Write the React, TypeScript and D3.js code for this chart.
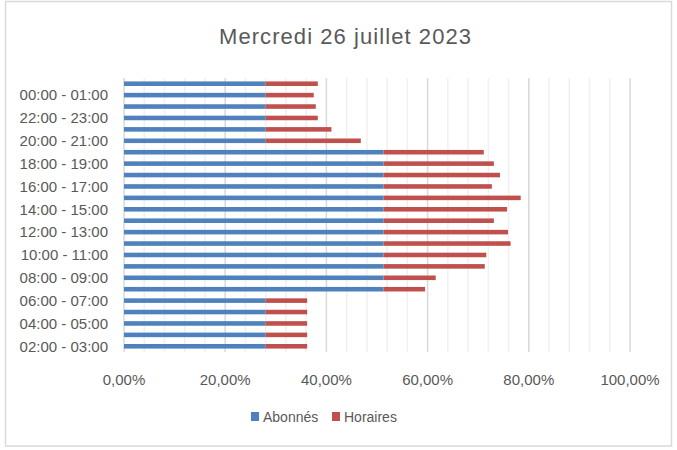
import React from "react";
import * as d3 from "d3";

const title = "Mercredi 26 juillet 2023";
const categories = [
  "02:00 - 03:00", "03:00 - 04:00", "04:00 - 05:00", "05:00 - 06:00",
  "06:00 - 07:00", "07:00 - 08:00", "08:00 - 09:00", "09:00 - 10:00",
  "10:00 - 11:00", "11:00 - 12:00", "12:00 - 13:00", "13:00 - 14:00",
  "14:00 - 15:00", "15:00 - 16:00", "16:00 - 17:00", "17:00 - 18:00",
  "18:00 - 19:00", "19:00 - 20:00", "20:00 - 21:00", "21:00 - 22:00",
  "22:00 - 23:00", "23:00 - 00:00", "00:00 - 01:00", "01:00 - 02:00",
];
const abonnes = [
  0.28, 0.28, 0.28, 0.28, 0.28,
  0.513, 0.513, 0.513, 0.513, 0.513, 0.513, 0.513, 0.513, 0.513, 0.513, 0.513, 0.513, 0.513,
  0.28, 0.28, 0.28, 0.28, 0.28, 0.28,
];
const horaires = [
  0.082, 0.082, 0.082, 0.082, 0.082,
  0.082, 0.103, 0.2, 0.203, 0.251, 0.246, 0.218, 0.244, 0.271, 0.214, 0.23, 0.218, 0.198,
  0.188, 0.13, 0.103, 0.099, 0.095, 0.103,
];
const seriesNames = ["Abonnés", "Horaires"];
const seriesColors = ["#4f81bd", "#c0504d"];
const xTicks = [0, 0.2, 0.4, 0.6, 0.8, 1.0];

const W = 677;
const H = 450;
const plot = { left: 124, right: 630, top: 78, bottom: 352 };
const font = "'Liberation Sans', Arial, sans-serif";
const textColor = "#595959";

export default function App() {
  const x = d3.scaleLinear().domain([0, 1]).range([plot.left, plot.right]);
  const y = d3
    .scaleBand<string>()
    .domain([...categories].reverse())
    .range([plot.top, plot.bottom])
    .paddingInner(0.6)
    .paddingOuter(0.3);

  const table = categories.map((c, i) => ({ cat: c, Abonnés: abonnes[i], Horaires: horaires[i] }));
  const stacked = d3.stack<any>().keys(seriesNames)(table);

  const locale = d3.formatLocale({ decimal: ",", thousands: " ", grouping: [3], currency: ["", "€"] });
  const fmt = locale.format(".2%");

  const minorTicks = d3.range(0, 25).map((k) => k * 0.04).filter((v) => Math.abs((v * 5) - Math.round(v * 5)) > 1e-6);

  return (
    <svg width={W} height={H} style={{ position: "absolute", left: 0, top: 0, background: "#fff" }}>
      <rect x={0} y={0} width={W} height={H} fill="#fff" />
      <rect x={5.5} y={1.5} width={666} height={444.5} fill="none" stroke="#d9d9d9" strokeWidth={1.5} />
      <text
        x={345}
        y={44}
        textAnchor="middle"
        fontFamily={font}
        fontSize={22}
        fill={textColor}
        textLength={252}
        lengthAdjust="spacing"
      >
        {title}
      </text>
      {minorTicks.map((t) => (
        <line key={"m" + t} x1={x(t)} x2={x(t)} y1={plot.top} y2={plot.bottom} stroke="#f0f0f0" strokeWidth={1.5} />
      ))}
      {xTicks.map((t) => (
        <line key={"g" + t} x1={x(t)} x2={x(t)} y1={plot.top} y2={plot.bottom} stroke="#d9d9d9" strokeWidth={1.5} />
      ))}
      {stacked.map((s, si) =>
        s.map((d, i) => (
          <rect
            key={si + "-" + i}
            x={x(d[0])}
            y={y(categories[i])}
            width={x(d[1]) - x(d[0])}
            height={y.bandwidth()}
            fill={seriesColors[si]}
          />
        ))
      )}
      {categories.map((c, i) =>
        i % 2 === 0 ? (
          <text
            key={"yl" + c}
            x={plot.left - 16}
            y={(y(c) as number) + y.bandwidth() / 2}
            dy="0.35em"
            textAnchor="end"
            fontFamily={font}
            fontSize={15}
            fill={textColor}
          >
            {c}
          </text>
        ) : null
      )}
      {xTicks.map((t) => (
        <text key={"xl" + t} x={x(t)} y={385} textAnchor="middle" fontFamily={font} fontSize={15} fill={textColor}>
          {fmt(t)}
        </text>
      ))}
      {seriesNames.map((n, i) => {
        const lx = i === 0 ? 251 : 332;
        return (
          <g key={n}>
            <rect x={lx} y={412} width={8} height={9} fill={seriesColors[i]} />
            <text x={lx + 12} y={422} fontFamily={font} fontSize={14} fill={textColor}>
              {n}
            </text>
          </g>
        );
      })}
    </svg>
  );
}
